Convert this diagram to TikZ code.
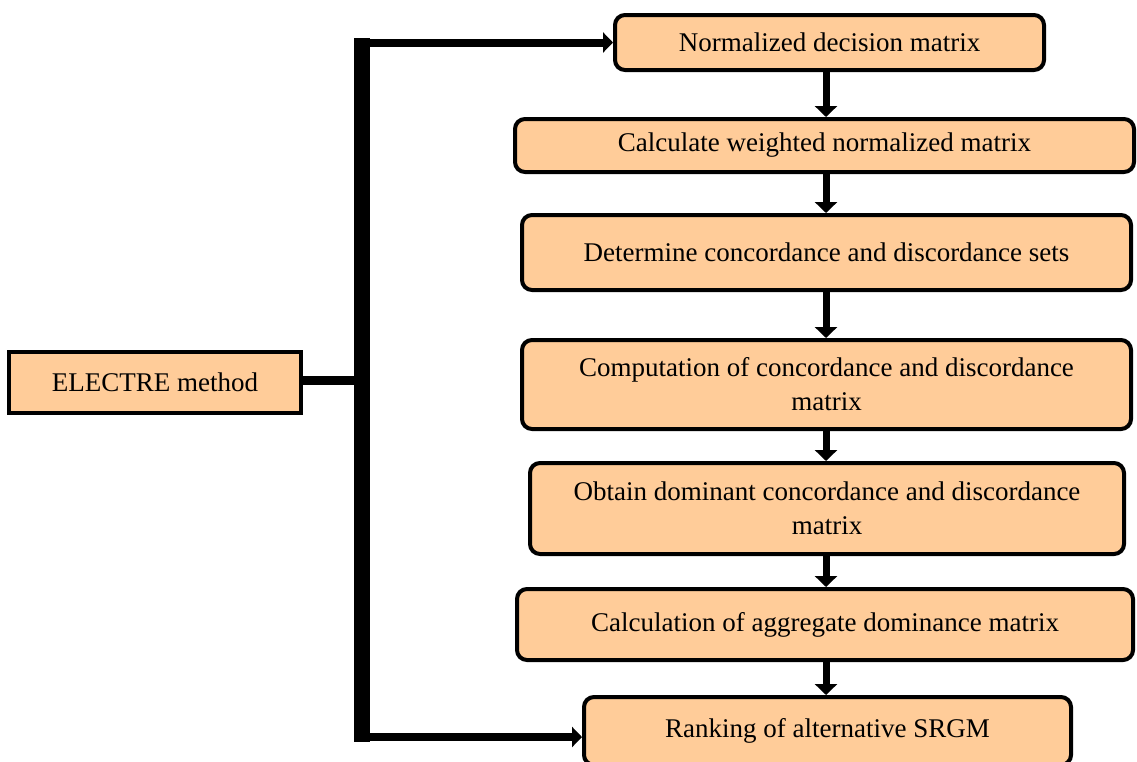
\documentclass[tikz,border=0pt]{standalone}
\usepackage{fontspec}
\setmainfont{Liberation Serif}
\usetikzlibrary{arrows.meta}
\definecolor{boxfill}{RGB}{255,204,153}
\tikzset{
  stepbox/.style={draw=black, line width=4pt, fill=boxfill, rounded corners=10pt,
    align=center, inner sep=0pt, font=\fontsize{27}{34}\selectfont},
  plainbox/.style={stepbox, rounded corners=0pt},
  flow/.style={line width=7pt, -{Triangle[width=22pt,length=11pt]}},
  feed/.style={line width=8pt, -{Triangle[width=20pt,length=10pt]}},
}
\begin{document}
\begin{tikzpicture}[x=1pt,y=-1pt]
\useasboundingbox (0,0) rectangle (1137,761);
\clip (0,0) rectangle (1137,761);
\node[stepbox, minimum width=429pt, minimum height=55pt] (b1) at (829.5,42.5) {Normalized decision matrix};
\node[stepbox, minimum width=619pt, minimum height=53pt] (b2) at (824.5,145.5) {Calculate weighted normalized matrix};
\node[stepbox, minimum width=609pt, minimum height=75pt] (b3) at (826.5,252.5) {Determine concordance and discordance sets};
\node[stepbox, minimum width=609pt, minimum height=89pt] (b4) at (826.5,384.5) {Computation of concordance and discordance\\matrix};
\node[stepbox, minimum width=594pt, minimum height=91pt] (b5) at (827,508.5) {Obtain dominant concordance and discordance\\matrix};
\node[stepbox, minimum width=616pt, minimum height=71pt] (b6) at (825,624.5) {Calculation of aggregate dominance matrix};
\node[stepbox, minimum width=487pt, minimum height=68pt] (b7) at (827.5,731) {Ranking of alternative SRGM};
\node[plainbox, minimum width=292pt, minimum height=61pt] (el) at (155,382.5) {ELECTRE method};
% spine
\coordinate (st) at (362,38);
\coordinate (sb) at (362,741.5);
\draw[line width=16pt] (st) -- (sb);
\coordinate (jt) at (362,42.5);
\coordinate (jb) at (362,737);
\coordinate (jm) at (362,380);
\draw[line width=9pt] (el.east |- jm) -- (jm);
\draw[feed] (jt) -- (b1.west |- jt);
\draw[feed] (jb) -- (b7.west |- jb);
% vertical flow
\foreach \a/\b in {b1/b2,b2/b3,b3/b4,b4/b5,b5/b6,b6/b7}{
  \draw[flow] (826,0 |- \a.south) -- (826,0 |- \b.north);
}
\end{tikzpicture}
\end{document}
